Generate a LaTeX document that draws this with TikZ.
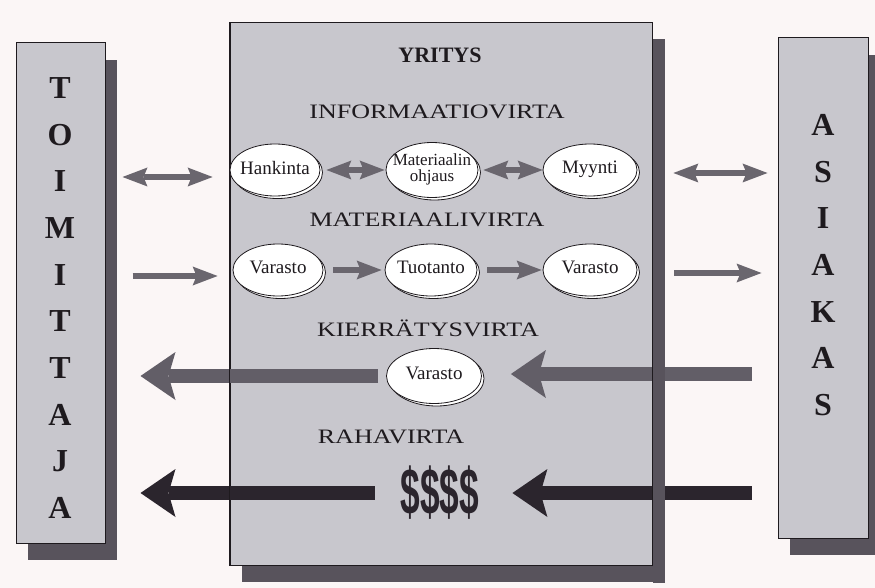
\documentclass[tikz,border=0pt]{standalone}
\usepackage{fontspec}
\usepackage{graphicx}
\setmainfont{Liberation Serif}
\newfontfamily\flowfont[FakeStretch=1.27]{Liberation Serif}
\newfontfamily\moneyfont{Liberation Sans}
\usetikzlibrary{arrows.meta,shapes.geometric,shadows}

\definecolor{paper}{HTML}{FBF6F6}
\definecolor{panel}{HTML}{C8C7CD}
\definecolor{panelshade}{HTML}{58535C}
\definecolor{flowgray}{HTML}{6A666E}
\definecolor{recyclegray}{HTML}{625E67}
\definecolor{moneydark}{HTML}{2B252D}
\definecolor{ink}{HTML}{1E1A1E}

% centred label of zero width, so the ellipse keeps its fixed size
\newcommand{\unitlabel}[1]{\makebox[0pt]{\begin{tabular}{@{}c@{}}#1\end{tabular}}}

\begin{document}
\begin{tikzpicture}[x=1pt,y=-1pt,
  panelbox/.style={fill=panel, draw=ink, line width=1pt, inner sep=0pt,
    general shadow={fill=panelshade, shadow xshift=12pt, shadow yshift=-17pt}},
  stackletters/.style={font=\fontsize{32}{46.7}\selectfont\bfseries, text=ink,
    align=center, inner sep=0pt},
  flowlabel/.style={font=\flowfont\fontsize{20.5}{24}\selectfont, text=ink, inner sep=0pt},
  unit/.style={ellipse, draw=ink, fill=white, line width=0.8pt, minimum width=90pt,
    minimum height=52pt, inner sep=0pt, text=ink, font=\fontsize{19}{17}\selectfont,
    copy shadow={shadow xshift=2.5pt, shadow yshift=-2.5pt}},
  thinflow/.style={draw=flowgray, line width=6pt,
    >={Stealth[length=25pt, width=19pt, inset=4pt, line width=0pt]}},
  bigflow/.style={line width=14pt,
    >={Stealth[length=35pt, width=48pt, inset=7pt, line width=0pt]}},
]
\fill[paper] (0,0) rectangle (875,588);
\useasboundingbox (0,0) rectangle (875,588);

% --- the three columns: supplier, company, customer ---
\node[panelbox, minimum width=89pt, minimum height=500pt] (toim) at (60.5,293) {};
\node[panelbox, minimum width=422pt, minimum height=542pt] (yri) at (441,294) {};
\node[panelbox, minimum width=90pt, minimum height=500pt] (asi) at (823,288) {};

\node[stackletters] (toimname) at (60,298) {T\\O\\I\\M\\I\\T\\T\\A\\J\\A};
\node[stackletters] (asiname) at (823,265) {A\\S\\I\\A\\K\\A\\S};

% --- headings inside the company ---
\node[font=\fontsize{22}{22}\selectfont\bfseries, text=ink, inner sep=0pt] (yrititle) at (440,55) {YRITYS};
\node[flowlabel] (infolbl) at (437,112) {INFORMAATIOVIRTA};
\node[flowlabel] (matlbl) at (427,220) {MATERIAALIVIRTA};
\node[flowlabel] (kierlbl) at (428,328) {KIERRÄTYSVIRTA};
\node[flowlabel] (rahalbl) at (391,437) {RAHAVIRTA};

% --- functions and stores ---
\node[unit] (hank) at (275,170) {\unitlabel{Hankinta}};
\node[unit, minimum width=92pt, minimum height=55pt, font=\fontsize{17}{16}\selectfont]
  (mat) at (432,170) {\unitlabel{Materiaalin\\ohjaus}};
\node[unit, minimum width=94pt] (myy) at (590,170) {\unitlabel{Myynti}};
\node[unit] (var1) at (278,270) {\unitlabel{Varasto}};
\node[unit, minimum width=92pt] (tuo) at (431,270) {\unitlabel{Tuotanto}};
\node[unit, minimum width=94pt] (var2) at (590,270) {\unitlabel{Varasto}};
\node[unit, minimum width=95pt, minimum height=55pt] (var3) at (434,376) {\unitlabel{Varasto}};
\node[inner sep=0pt, text=moneydark] (raha) at (440,493)
  {\scalebox{0.86}[1.6]{\moneyfont\fontsize{41}{41}\selectfont\bfseries\$\$\$\$}};

% --- information flow ---
\draw[thinflow,<->, shorten <=17pt, shorten >=17pt]
  ([yshift=-7pt]hank.west -| toim.east) -- ([yshift=-7pt]hank.west);
\draw[thinflow,<->, shorten <=6pt, shorten >=1pt] (hank.east) -- (mat.west);
\draw[thinflow,<->, shorten <=5pt, shorten >=0pt] (mat.east) -- (myy.west);
\draw[thinflow,<->, shorten <=36pt, shorten >=10pt]
  ([yshift=-3pt]myy.east) -- ([yshift=-3pt]myy.east -| asi.west);

% --- material flow ---
\draw[thinflow,->, shorten <=27pt, shorten >=15pt]
  ([yshift=-6pt]var1.west -| toim.east) -- ([yshift=-6pt]var1.west);
\draw[thinflow,->, shorten <=10pt, shorten >=3pt] (var1.east) -- (tuo.west);
\draw[thinflow,->, shorten <=10pt, shorten >=1pt] (tuo.east) -- (var2.west);
\draw[thinflow,->, shorten <=37pt, shorten >=16pt]
  ([yshift=-3pt]var2.east) -- ([yshift=-3pt]var2.east -| asi.west);

% --- recycling flow ---
\draw[bigflow, draw=recyclegray, ->, shorten <=26pt, shorten >=29pt]
  ([yshift=2pt]var3.east -| asi.west) -- ([yshift=2pt]var3.east);
\draw[bigflow, draw=recyclegray, ->, shorten <=8pt, shorten >=35pt]
  (var3.west) -- (var3.west -| toim.east);

% --- money flow ---
\draw[bigflow, draw=moneydark, ->, shorten <=26pt, shorten >=33pt]
  (raha.east -| asi.west) -- (raha.east);
\draw[bigflow, draw=moneydark, ->, shorten <=26pt, shorten >=35pt]
  (raha.west) -- (raha.west -| toim.east);

% company outline and right-hand shadow lie over the flows
\fill[panelshade] ([yshift=-17pt]yri.north east) rectangle ([xshift=12pt,yshift=-17pt]yri.south east);
\draw[ink, line width=1pt] (yri.south west) rectangle (yri.north east);
\end{tikzpicture}
\end{document}
